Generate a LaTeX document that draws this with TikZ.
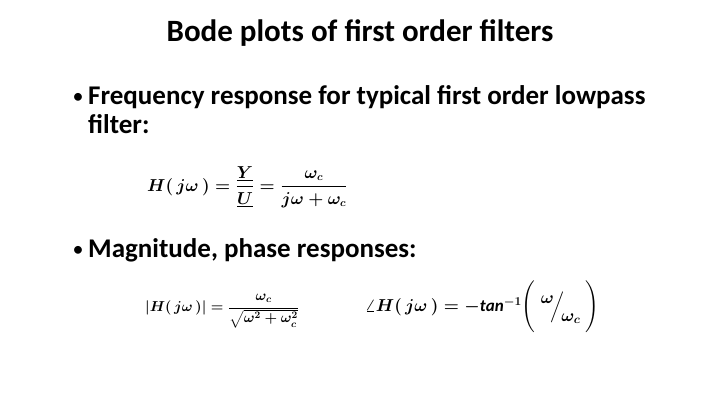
\documentclass[tikz,border=0pt]{standalone}
\usepackage{amsmath}
\usepackage{fontspec}
\setmainfont{Carlito}
\begin{document}
\begin{tikzpicture}[x=1pt,y=-1pt,
  txt/.style={anchor=west,inner sep=0pt,font=\bfseries\fontsize{27}{32}\selectfont},
  bul/.style={inner sep=0pt,font=\fontsize{22}{26}\selectfont},
  eq/.style={inner sep=0pt,font=\fontsize{16}{19}\selectfont}]
\useasboundingbox[fill=white] (0,0) rectangle (720,405);
\node[inner sep=0pt,font=\bfseries\fontsize{31}{36}\selectfont] (title) at (360,33) {Bode plots of first order filters};
\node[bul] (b1) at (78,98) {•};
\node[txt] (t1) at (88,97) {Frequency response for typical first order lowpass};
\node[txt] (t1b) at (88,124) {filter:};
\node[eq,anchor=west] (e1) at (147,187) {$\boldsymbol{H(\,j\omega\,)=\dfrac{\underline{Y}}{\underline{U}}=\dfrac{\omega_c}{j\omega+\omega_c}}$};
\node[bul] (b2) at (78,251) {•};
\node[txt] (t2) at (88,250) {Magnitude, phase responses:};
\node[eq,anchor=west,font=\fontsize{14.5}{17}\selectfont] (e2) at (145,311) {$\boldsymbol{\left|H(\,j\omega\,)\right|=\dfrac{\omega_c}{\sqrt{\omega^2+\omega_c^2}}}$};
\node[eq,anchor=west,font=\fontsize{17}{20}\selectfont] (e3) at (365,307) {$\boldsymbol{\angle H(\,j\omega\,)=-\mathit{tan}^{-1}\Bigg(\;\raisebox{1ex}{$\omega$}\!\Big/\!\raisebox{-1.2ex}{$\omega_c$}\;\Bigg)}$};
\end{tikzpicture}
\end{document}
